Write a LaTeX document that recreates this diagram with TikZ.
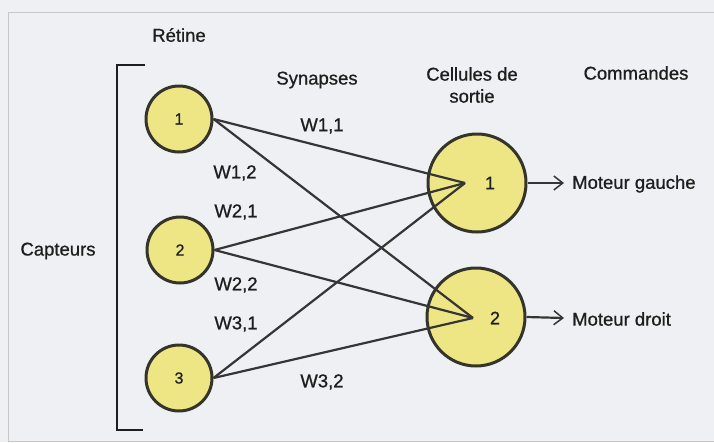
\documentclass[tikz,border=0pt]{standalone}
\usepackage{fontspec}
\setmainfont[FakeBold=0.8]{Liberation Sans}
\usetikzlibrary{arrows.meta}
\definecolor{bg}{HTML}{EEF0F3}
\definecolor{cellfill}{HTML}{EEE685}
\definecolor{cellborder}{HTML}{35342B}
\definecolor{ink}{HTML}{1E1E1E}
\tikzset{
  incell/.style={circle, draw=cellborder, line width=3pt, fill=cellfill, minimum size=66pt, inner sep=0pt, font=\fontsize{16}{16}\selectfont, text=ink},
  outcell/.style={circle, draw=cellborder, line width=3pt, fill=cellfill, minimum size=98pt, inner sep=0pt, font=\fontsize{18}{18}\selectfont, text=ink},
  lbl/.style={font=\fontsize{18.5}{22}\selectfont, text=ink, inner sep=0pt, align=center},
  syn/.style={draw=ink!90, line width=2.2pt},
  cmd/.style={draw=ink!90, line width=2.2pt, -{Straight Barb[length=9pt,width=14pt,line width=1.5pt]}},
  bracket/.style={draw=ink, line width=2.2pt},
  frame/.style={draw=black!22, line width=0.8pt}
}
\begin{document}
\begin{tikzpicture}[x=1pt,y=-1pt]
\fill[bg] (0,0) rectangle (714,442);
\useasboundingbox (0,0) rectangle (714,442);
\draw[frame] (8,441) -- (8,12) -- (714,12);
\draw[frame] (8,441) -- (714,441);
% bracket
\draw[bracket] (145,65) -- (117,65) -- (117,430) -- (143,430);
% cells
\node[incell] (i1) at (179,119) {1};
\node[incell] (i2) at (180,250) {2};
\node[incell] (i3) at (179,378) {3};
\node[outcell] (o1) at (477,183) {};
\node[outcell] (o2) at (476,317) {};
\coordinate (c1) at (465,183);
\coordinate (c2) at (473,318);
% synapses
\draw[syn] (i1.east) -- (c1);
\draw[syn] (i1.east) -- (c2);
\draw[syn] (i2.east) -- (c1);
\draw[syn] (i2.east) -- (c2);
\draw[syn] (i3.east) -- (c1);
\draw[syn] (i3.east) -- (c2);
\node[font=\fontsize{18}{18}\selectfont, text=ink] (n1) at (490,183) {1};
\node[font=\fontsize{18}{18}\selectfont, text=ink] (n2) at (495,318) {2};
% commands
\coordinate (a1) at (564,183);
\coordinate (a2) at (564,318);
\draw[cmd] (o1.east) -- (a1);
\draw[cmd] (o2.east) -- (a2);
\node[lbl, anchor=west] (m1) at (572,184) {Moteur gauche};
\node[lbl, anchor=west] (m2) at (572,319) {Moteur droit};
% headings
\node[lbl] (ret) at (179,35) {Rétine};
\node[lbl] (synh) at (317,80) {Synapses};
\node[lbl] (cel) at (472,85) {Cellules de\\sortie};
\node[lbl] (com) at (636,73) {Commandes};
\node[lbl] (cap) at (58,251) {Capteurs};
% weights
\node[lbl] (w11) at (322,126) {W1,1};
\node[lbl] (w12) at (235,173) {W1,2};
\node[lbl] (w21) at (236,212) {W2,1};
\node[lbl] (w22) at (236,285) {W2,2};
\node[lbl] (w31) at (236,324) {W3,1};
\node[lbl] (w32) at (322,382) {W3,2};
\end{tikzpicture}
\end{document}
